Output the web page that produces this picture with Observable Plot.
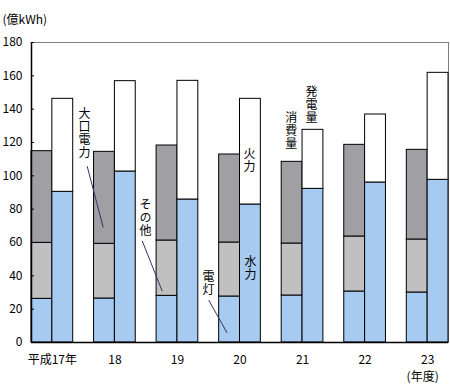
<!DOCTYPE html>
<html>
<head>
<meta charset="utf-8">
<script src="https://cdn.jsdelivr.net/npm/d3@7"></script>
<script src="https://cdn.jsdelivr.net/npm/@observablehq/plot@0.6"></script>
<style>
  body { margin: 0; background: #fff; }
  text.vlabel { writing-mode: vertical-rl; text-orientation: upright; letter-spacing: 1px; }
</style>
</head>
<body>
<div id="chart"></div>
<script>
const years = ["平成17年", "18", "19", "20", "21", "22", "23"];
// 消費量 components
const dento = [26.2, 26.4, 28.0, 27.6, 28.2, 30.6, 30.0];   // 電灯
const sonota = [33.6, 32.8, 33.2, 32.4, 31.2, 33.0, 31.8];  // その他
const oguchi = [55.0, 55.2, 57.0, 52.8, 49.0, 55.0, 53.8];  // 大口電力
// 発電量 components
const suiryoku = [90.4, 102.6, 85.8, 82.8, 92.2, 96.0, 97.6]; // 水力
const karyoku = [55.8, 54.2, 71.2, 63.4, 35.4, 40.8, 64.2];   // 火力
const yTicks = [0, 20, 40, 60, 80, 100, 120, 140, 160, 180];

const colors = {"電灯": "#a6caf0", "その他": "#c0c0c0", "大口電力": "#a0a0a4", "水力": "#a6caf0", "火力": "#ffffff"};

// build stacked table
const rows = [];
years.forEach((yr, i) => {
  const groups = [
    [["電灯", dento[i]], ["その他", sonota[i]], ["大口電力", oguchi[i]]],
    [["水力", suiryoku[i]], ["火力", karyoku[i]]]
  ];
  groups.forEach((g, b) => {
    let acc = 0;
    g.forEach(([name, v]) => {
      rows.push({year: yr, series: name, x1: 3 * i + b, x2: 3 * i + b + 1, y1: acc, y2: acc + v});
      acc += v;
    });
  });
});
const tickPos = years.map((d, i) => 3 * i + 1);

// annotations (data coordinates)
const labels = [
  {text: "大口電力", x: 2.54, y: 125.3},
  {text: "その他", x: 5.47, y: 74.6},
  {text: "電灯", x: 8.49, y: 35.3},
  {text: "火力", x: 10.46, y: 109},
  {text: "水力", x: 10.5, y: 44.3},
  {text: "消費量", x: 12.46, y: 126.8},
  {text: "発電量", x: 13.43, y: 142.3}
];
const leaders = [
  {x1: 2.67, y1: 105.8, x2: 3.44, y2: 69.0},
  {x1: 5.31, y1: 61.0, x2: 6.27, y2: 30.8},
  {x1: 8.50, y1: 25.4, x2: 9.38, y2: 5.8}
];

const font = "'Noto Sans CJK JP', 'Noto Sans', sans-serif";

const chart = Plot.plot({
  width: 450,
  height: 392,
  marginLeft: 31,
  marginRight: 2,
  marginTop: 42,
  marginBottom: 50,
  style: {fontFamily: font, fontSize: "12px", color: "#000", background: "#fff"},
  x: {type: "linear", domain: [0, 20], axis: null},
  y: {domain: [0, 180], axis: null},
  marks: [
    Plot.frame({stroke: "#808080"}),
    Plot.rectY(rows, {x1: "x1", x2: "x2", y1: "y1", y2: "y2", fill: d => colors[d.series], stroke: "#000", strokeWidth: 1}),
    Plot.ruleX([0], {stroke: "#000", strokeWidth: 1.5}),
    Plot.ruleY([0], {stroke: "#000", strokeWidth: 1.5}),
    Plot.axisY({ticks: yTicks, tickSize: -3, tickPadding: 12, tickFormat: d => d, fontSize: 12, label: null}),
    Plot.axisX({ticks: tickPos, tickSize: 0, tickPadding: 13, tickFormat: d => years[(d - 1) / 3], fontSize: 12, label: null}),
    Plot.text(["(億kWh)"], {frameAnchor: "top-left", dx: -29, dy: -22, textAnchor: "start", lineAnchor: "middle", fontSize: 12}),
    Plot.text(["(年度)"], {x: 19, y: 0, dx: -5, dy: 35, lineAnchor: "middle", fontSize: 12}),
    Plot.link(leaders, {x1: "x1", y1: "y1", x2: "x2", y2: "y2", stroke: "#333366", strokeWidth: 1}),
    Plot.text(labels, {x: "x", y: "y", text: "text", textAnchor: "middle", lineAnchor: "middle", fontSize: 12, fill: "#000"})
  ]
});
// render annotation labels vertically (縦書き)
const labelSet = new Set(labels.map(d => d.text));
d3.select(chart).selectAll("text").filter(function() {
  return labelSet.has(this.textContent) && this.children.length === 0;
}).classed("vlabel", true).attr("y", null).attr("dy", null);
document.getElementById("chart").appendChild(chart);
</script>
</body>
</html>
